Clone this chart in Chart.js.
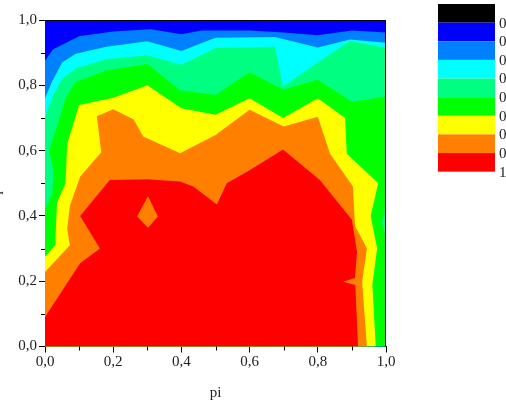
<!DOCTYPE html>
<html>
<head>
<meta charset="utf-8">
<script src="https://cdn.jsdelivr.net/npm/chart.js@4.4.0/dist/chart.umd.min.js"></script>
<style>
  html, body { margin: 0; padding: 0; background: #fff; }
  #wrap { width: 506px; height: 406px; }
</style>
</head>
<body>
<div id="wrap"><canvas id="contour"></canvas></div>
<script>
// contour regions, [pi, q] points, each one closed along the bottom edge
var blueArea = [[0, 0], [0, 1], [1, 1], [1, 0]];
var azureArea = [[0, 0], [0, 0.875], [0.023, 0.91], [0.1, 0.95], [0.2, 0.965], [0.31, 0.972], [0.4, 0.956],
  [0.46, 0.968], [0.6, 0.968], [0.7, 0.962], [0.8, 0.953], [0.9, 0.968], [1, 0.962], [1, 0]];
var cyanArea = [[0, 0], [0, 0.76], [0.02, 0.81], [0.05, 0.87], [0.09, 0.897], [0.18, 0.918], [0.3, 0.935],
  [0.4, 0.905], [0.5, 0.946], [0.674, 0.948], [0.8, 0.916], [0.894, 0.94], [1, 0.93], [1, 0]];
var springArea = [[0, 0], [0, 0.7], [0.02, 0.76], [0.05, 0.82], [0.094, 0.854], [0.18, 0.88], [0.3, 0.892],
  [0.4, 0.863], [0.5, 0.914], [0.674, 0.918], [0.698, 0.796], [0.8, 0.87], [0.894, 0.936], [1, 0.915], [1, 0]];
var greenArea = [[0, 0], [0, 0.42], [0.022, 0.47], [0.025, 0.54], [0.012, 0.6], [0.04, 0.69], [0.06, 0.76],
  [0.09, 0.81], [0.18, 0.845], [0.3, 0.865], [0.396, 0.785], [0.5, 0.77], [0.6, 0.84], [0.698, 0.787],
  [0.8, 0.817], [0.9, 0.75], [1, 0.766], [1, 0]];
var springPatch = [[1, 0.43], [0.988, 0.38], [1, 0.33], [1, 0.43]];
var yellowArea = [[0, 0], [0, 0.275], [0.03, 0.31], [0.035, 0.44], [0.06, 0.5], [0.065, 0.62], [0.1, 0.74],
  [0.2, 0.762], [0.3, 0.80], [0.4, 0.73], [0.5, 0.71], [0.6, 0.76], [0.698, 0.70], [0.8, 0.76], [0.88, 0.70],
  [0.885, 0.59], [0.977, 0.50], [0.955, 0.40], [0.974, 0.30], [0.96, 0.19], [0.97, 0]];
var orangeArea = [[0, 0], [0, 0.228], [0.073, 0.31], [0.065, 0.36], [0.073, 0.43], [0.103, 0.52],
  [0.165, 0.595], [0.152, 0.705], [0.2, 0.727], [0.26, 0.695], [0.288, 0.643], [0.396, 0.592], [0.5, 0.648],
  [0.6, 0.725], [0.7, 0.674], [0.8, 0.704], [0.836, 0.59], [0.903, 0.49], [0.909, 0.37], [0.944, 0.30],
  [0.93, 0.198], [0.944, 0]];
var redArea = [[0, 0], [0, 0.09], [0.103, 0.255], [0.161, 0.30], [0.103, 0.40], [0.19, 0.51], [0.3, 0.512],
  [0.396, 0.505], [0.435, 0.49], [0.504, 0.435], [0.533, 0.50], [0.6, 0.54], [0.698, 0.603], [0.806, 0.51],
  [0.9, 0.388], [0.915, 0.29], [0.909, 0.21], [0.874, 0.198], [0.91, 0.188], [0.918, 0]];
var orangeIsland = [[0.302, 0.46], [0.331, 0.398], [0.302, 0.364], [0.27, 0.398], [0.302, 0.46]];

// top of the stack first
var regions = [orangeIsland, redArea, orangeArea, yellowArea, springPatch, greenArea, springArea, cyanArea, azureArea, blueArea];
var regionColors = ['#FF8000', '#FF0000', '#FF8000', '#FFFF00', '#00FF80', '#00FF00', '#00FF80', '#00FFFF', '#0080FF', '#0000FF'];

var legendColors = ['#000000', '#0000FF', '#0080FF', '#00FFFF', '#00FF80', '#00FF00', '#FFFF00', '#FF8000', '#FF0000'];
var legendLabels = ['0,2', '0,3', '0,4', '0,5', '0,6', '0,7', '0,8', '0,9', '1,0'];
var minorValues = [0.1, 0.3, 0.5, 0.7, 0.9];

var serif = "'Liberation Serif', 'DejaVu Serif', serif";

function comma(v) {
  return v.toFixed(1).replace('.', ',');
}

var datasets = regions.map(function (pts, i) {
  return {
    data: pts.map(function (p) { return { x: p[0], y: p[1] }; }),
    showLine: true,
    fill: 'shape',
    backgroundColor: regionColors[i],
    borderColor: regionColors[i],
    borderWidth: 0,
    pointRadius: 0,
    pointHoverRadius: 0,
    tension: 0
  };
});

// minor ticks, frame, clipped y title and the colour scale
var extras = {
  id: 'extras',
  afterDraw: function (chart) {
    var c = chart.ctx, a = chart.chartArea;
    var xs = chart.scales.x, ys = chart.scales.y;
    c.save();
    c.strokeStyle = '#000';
    c.lineWidth = 1;
    c.beginPath();
    minorValues.forEach(function (v) {
      var px = Math.round(xs.getPixelForValue(v)) + 0.5;
      c.moveTo(px, a.bottom);
      c.lineTo(px, a.bottom + 4);
      var py = Math.round(ys.getPixelForValue(v)) + 0.5;
      c.moveTo(a.left, py);
      c.lineTo(a.left - 4, py);
    });
    c.moveTo(a.left, Math.round(a.top) + 0.5);
    c.lineTo(a.right, Math.round(a.top) + 0.5);
    c.moveTo(Math.round(a.right) - 0.5, a.top);
    c.lineTo(Math.round(a.right) - 0.5, a.bottom);
    c.stroke();

    c.fillStyle = '#222';
    c.font = '15px ' + serif;
    c.translate(-4, 193);
    c.rotate(-Math.PI / 2);
    c.textAlign = 'center';
    c.textBaseline = 'middle';
    c.fillText('qi', 0, 0);
    c.restore();

    c.save();
    var top = 4, h = 18.63;
    legendColors.forEach(function (col, i) {
      c.fillStyle = col;
      c.fillRect(438, top + i * h, 57, h);
    });
    c.fillStyle = '#222';
    c.font = '15px ' + serif;
    c.textAlign = 'left';
    c.textBaseline = 'middle';
    legendLabels.forEach(function (t, i) {
      c.fillText(t, 499, top + (i + 1) * h + 1);
    });
    c.restore();
  }
};

new Chart(document.getElementById('contour'), {
  type: 'scatter',
  data: { datasets: datasets },
  options: {
    responsive: true,
    maintainAspectRatio: false,
    animation: false,
    events: [],
    layout: { padding: { top: 20, right: 120, left: 0, bottom: 0 } },
    plugins: {
      legend: { display: false },
      tooltip: { enabled: false }
    },
    scales: {
      x: {
        type: 'linear',
        min: 0,
        max: 1,
        afterFit: function (s) { s.height = 59.5; },
        border: { display: true, color: '#000', width: 1 },
        grid: { drawOnChartArea: false, tickLength: 6, tickColor: '#000' },
        ticks: {
          stepSize: 0.2,
          padding: 1,
          color: '#222',
          font: { family: serif, size: 15 },
          callback: comma
        },
        title: {
          display: true,
          text: 'pi',
          color: '#222',
          padding: 4,
          font: { family: serif, size: 15 }
        }
      },
      y: {
        type: 'linear',
        min: 0,
        max: 1,
        afterFit: function (s) { s.width = 45; },
        border: { display: true, color: '#000', width: 1 },
        grid: { drawOnChartArea: false, tickLength: 6, tickColor: '#000' },
        ticks: {
          stepSize: 0.2,
          padding: 2,
          color: '#222',
          font: { family: serif, size: 15 },
          callback: comma
        }
      }
    }
  },
  plugins: [extras]
});
</script>
</body>
</html>
